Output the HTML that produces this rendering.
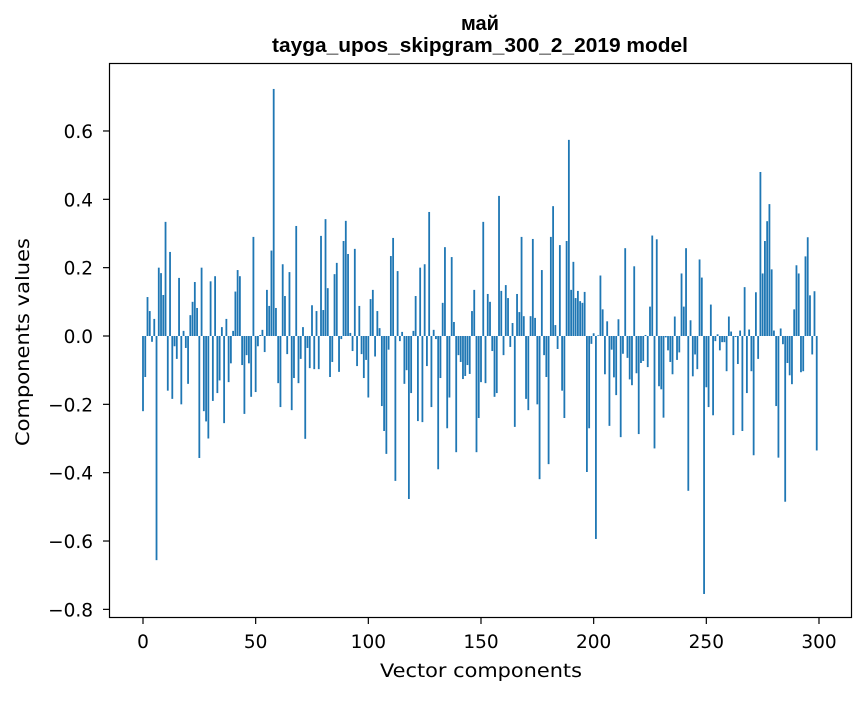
<!DOCTYPE html>
<html>
<head>
<meta charset="utf-8">
<style>
  html,body{margin:0;padding:0;background:#fff;}
  body{width:867px;height:696px;overflow:hidden;}
  text{font-family:"DejaVu Sans","Liberation Sans",sans-serif;fill:#000;}
  .title{font-family:"Liberation Sans","DejaVu Sans",sans-serif;}
</style>
</head>
<body>
<svg id="chart" width="867" height="696" xmlns="http://www.w3.org/2000/svg">
  <text class="title" x="480" y="30" text-anchor="middle" font-size="20" font-weight="bold">май</text>
  <text class="title" x="480" y="52" text-anchor="middle" font-size="20.5" font-weight="bold" textLength="416" lengthAdjust="spacingAndGlyphs">tayga_upos_skipgram_300_2_2019 model</text>
  <g id="bars"></g>
  <g id="yticks"></g>
  <g id="xticks"></g>
  <rect x="109.5" y="63.5" width="742" height="554" fill="none" stroke="#000" stroke-width="1.2"/>
  <text x="481" y="677" text-anchor="middle" font-size="19" textLength="202" lengthAdjust="spacingAndGlyphs">Vector components</text>
  <text transform="translate(29,342) rotate(-90)" text-anchor="middle" font-size="19" textLength="208" lengthAdjust="spacingAndGlyphs">Components values</text>
</svg>
<script>
const indices = Array.from({length:300},(_,i)=>i);
const values = [
-0.22,-0.12,0.114,0.073,-0.017,0.05,-0.656,0.2,0.184,0.12,
0.334,-0.16,0.246,-0.184,-0.03,-0.067,0.17,-0.2,0.015,-0.035,
-0.14,0.061,0.1,0.158,0.082,-0.357,0.2,-0.22,-0.25,-0.3,
0.16,-0.19,0.175,-0.167,-0.13,0.026,-0.255,0.05,-0.135,-0.08,
0.015,0.13,0.193,0.175,-0.085,-0.228,-0.056,-0.08,-0.178,0.29,
-0.164,-0.03,0.003,0.018,-0.047,0.135,0.088,0.25,0.723,0.082,
-0.138,-0.208,0.21,0.117,-0.053,0.187,-0.217,-0.123,0.322,-0.138,
-0.067,0.026,-0.301,-0.035,-0.094,0.09,-0.097,0.073,-0.097,0.293,
0.076,0.342,0.14,-0.12,-0.076,0.181,0.214,-0.105,-0.009,0.278,
0.337,0.24,0.009,-0.044,0.255,-0.088,0.088,-0.053,-0.123,-0.07,
-0.18,0.108,0.135,-0.06,0.073,0.023,-0.205,-0.278,-0.345,-0.04,
0.234,0.287,-0.424,0.19,-0.015,0.012,-0.14,-0.1,-0.477,-0.167,
0.015,0.117,-0.249,0.2,-0.252,0.21,-0.088,0.363,-0.208,0.018,
-0.009,-0.39,-0.123,0.097,0.26,-0.27,-0.18,0.231,0.041,-0.34,
-0.056,-0.076,-0.126,-0.117,-0.085,-0.111,0.073,0.135,-0.34,-0.24,
-0.135,0.334,-0.138,0.123,0.1,-0.044,-0.178,-0.167,0.41,0.132,
-0.056,0.149,0.111,-0.032,0.038,-0.266,0.123,0.07,0.29,0.058,
-0.184,-0.217,0.058,0.284,0.053,-0.2,-0.419,0.193,-0.056,-0.12,
-0.375,0.29,0.38,0.032,-0.038,0.266,-0.16,-0.24,0.278,0.574,
0.135,0.217,0.111,0.132,0.102,0.097,0.129,-0.398,-0.27,-0.023,
0.008,-0.594,0.002,0.177,0.078,-0.112,0.043,-0.263,-0.04,-0.121,
-0.173,0.049,-0.296,-0.052,0.257,-0.064,-0.127,-0.144,0.204,-0.109,
-0.287,-0.079,-0.073,0.003,-0.091,0.086,0.294,-0.329,0.283,-0.147,
-0.156,-0.239,-0.004,-0.042,-0.076,-0.112,0.057,-0.07,-0.048,0.183,
0.086,0.257,-0.453,0.046,-0.118,-0.054,-0.097,0.224,0.171,-0.755,
-0.15,-0.208,0.092,-0.232,-0.015,0.005,-0.042,-0.018,-0.018,-0.103,
0.057,0.013,-0.29,-0.003,-0.082,0.016,-0.278,0.143,-0.167,0.019,
-0.103,-0.349,0.128,-0.067,0.48,0.183,0.278,0.336,0.386,0.195,
0.016,-0.205,-0.356,0.022,-0.024,-0.485,-0.079,-0.115,-0.141,0.078,
0.207,0.183,-0.106,-0.103,0.233,0.289,0.119,-0.054,0.131,-0.335
];
const yTickValues = [-0.8,-0.6,-0.4,-0.2,0.0,0.2,0.4,0.6];
const yTickLabels = ["\u22120.8","\u22120.6","\u22120.4","\u22120.2","0.0","0.2","0.4","0.6"];
const xTickValues = [0,50,100,150,200,250,300];
const xTickLabels = ["0","50","100","150","200","250","300"];

const NS = "http://www.w3.org/2000/svg";
const X0 = 143, XS = 2.2533;
const Y0 = 336, YS = 341.7;
function xScale(v){ return X0 + v*XS; }
function yScale(v){ return Y0 - v*YS; }

const barsG = document.getElementById('bars');
const bw = 0.8*XS;
indices.forEach((idx,k)=>{
  const v = values[k];
  if (v === undefined) return;
  const r = document.createElementNS(NS,'rect');
  
  
  const y1 = yScale(Math.max(v,0)), y2 = yScale(Math.min(v,0));
  r.setAttribute('x', xScale(idx) - bw/2);
  r.setAttribute('y', y1);
  r.setAttribute('width', bw);
  r.setAttribute('height', Math.max(y2-y1, 0.01));
  r.setAttribute('fill', '#1f77b4');
  barsG.appendChild(r);
});

const yG = document.getElementById('yticks');
yTickValues.forEach((v,k)=>{
  const y = yScale(v);
  const l = document.createElementNS(NS,'line');
  
  
  l.setAttribute('x1',103); l.setAttribute('x2',109.5);
  l.setAttribute('y1',y); l.setAttribute('y2',y);
  l.setAttribute('stroke','#000');
  l.setAttribute('stroke-width','1.2');
  yG.appendChild(l);
  const t = document.createElementNS(NS,'text');
  
  
  t.setAttribute('x',93); t.setAttribute('y',y+7);
  t.setAttribute('text-anchor','end');
  t.setAttribute('font-size','18.5');
  t.textContent = yTickLabels[k];
  yG.appendChild(t);
});

const xG = document.getElementById('xticks');
xTickValues.forEach((v,k)=>{
  const x = xScale(v);
  const l = document.createElementNS(NS,'line');
  
  
  l.setAttribute('x1',x); l.setAttribute('x2',x);
  l.setAttribute('y1',617.5); l.setAttribute('y2',624);
  l.setAttribute('stroke','#000');
  l.setAttribute('stroke-width','1.2');
  xG.appendChild(l);
  const t = document.createElementNS(NS,'text');
  
  
  t.setAttribute('x',x); t.setAttribute('y',648);
  t.setAttribute('text-anchor','middle');
  t.setAttribute('font-size','18.5');
  t.textContent = xTickLabels[k];
  xG.appendChild(t);
});
</script>
</body>
</html>
